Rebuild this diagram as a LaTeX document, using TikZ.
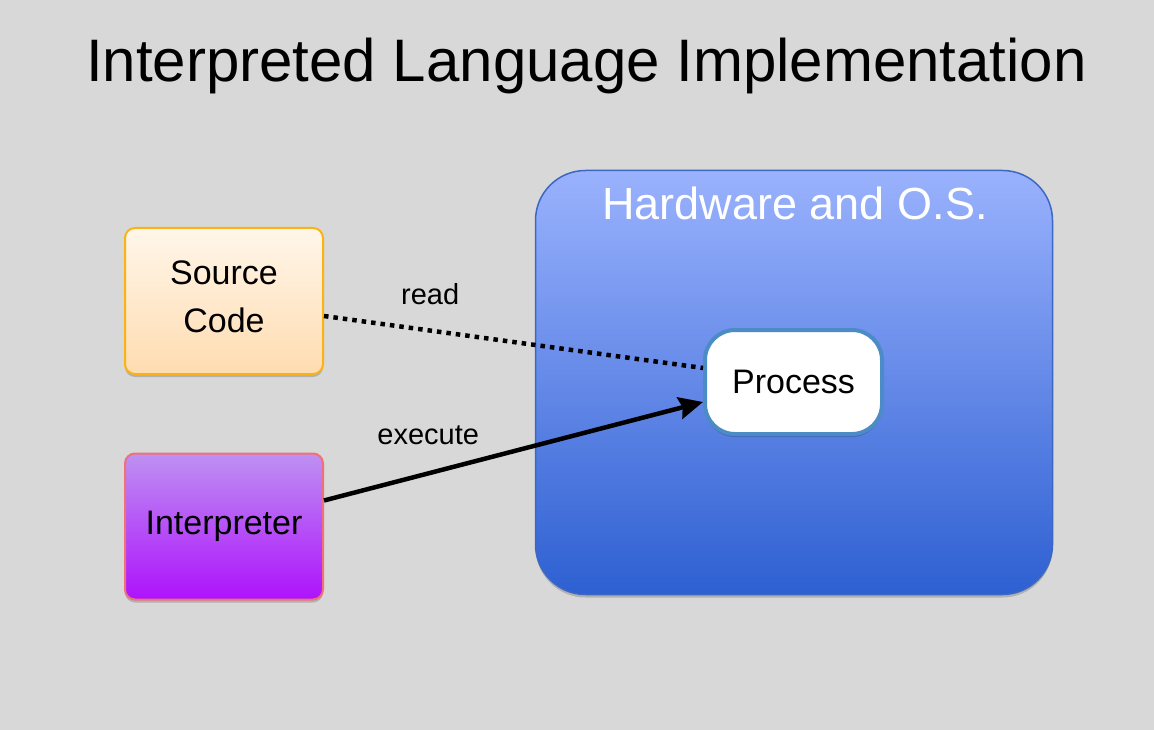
\documentclass[tikz,border=0pt]{standalone}
\usepackage{fontspec}
\setmainfont{Liberation Sans}
\usetikzlibrary{arrows.meta,shadows}

\definecolor{canvas}{RGB}{216,216,216}
\definecolor{srctop}{RGB}{255,246,234}
\definecolor{srcbot}{RGB}{255,220,176}
\definecolor{srcline}{RGB}{250,178,20}
\definecolor{inttop}{RGB}{190,145,242}
\definecolor{intbot}{RGB}{174,18,252}
\definecolor{intline}{RGB}{240,112,120}
\definecolor{hwtop}{RGB}{154,178,253}
\definecolor{hwbot}{RGB}{46,96,210}
\definecolor{hwline}{RGB}{60,104,196}
\definecolor{procline}{RGB}{75,139,198}

\tikzset{
  softshadow/.style={drop shadow={shadow xshift=0pt, shadow yshift=-3pt, opacity=0.18, fill=black}},
  sidebox/.style={rounded corners=10pt, minimum width=198pt, minimum height=146pt,
    line width=2pt, align=center, inner sep=0pt, softshadow,
    font=\fontsize{34}{48}\selectfont},
  lbl/.style={font=\fontsize{29}{34}\selectfont, inner sep=0pt},
  link/.style={line width=4.5pt},
}

\begin{document}
\begin{tikzpicture}[x=1pt,y=-1pt]
  % page and background
  \fill[canvas] (0,0) rectangle (1154,730);
  \useasboundingbox (0,0) rectangle (1154,730);

  % heading
  \node[anchor=base, inner sep=0pt, font=\fontsize{60}{72}\selectfont] (title) at (586.5,82)
    {Interpreted Language Implementation};

  % hardware / operating system container
  \node[rounded corners=50pt, minimum width=517pt, minimum height=424pt,
        top color=hwtop, bottom color=hwbot, draw=hwline, line width=1.5pt,
        softshadow, inner sep=0pt] (hw) at (794,382.5) {};
  \node[anchor=base, inner sep=0pt, text=white, font=\fontsize{45}{54}\selectfont]
    (hwtitle) at (795,220) {Hardware and O.S.};

  % running process
  \node[rounded corners=30pt, minimum width=177pt, minimum height=104pt,
        fill=white, draw=procline, line width=4pt, softshadow,
        font=\fontsize{34}{40}\selectfont, inner sep=0pt] (proc) at (793.5,382) {Process};

  % inputs
  \node[sidebox, top color=srctop, bottom color=srcbot, draw=srcline]
    (src) at (224,301) {Source\\Code\rule[-8pt]{0pt}{0pt}};
  \node[sidebox, top color=inttop, bottom color=intbot, draw=intline]
    (interp) at (224,526.5) {Interpreter};

  % connectors
  \draw[link, dash pattern=on 4.5pt off 5pt]
    ([yshift=-15pt]src.east) -- node[lbl, pos=0.28, yshift=36pt] (readlbl) {read}
    ([yshift=14pt]proc.west);
  \draw[link, -{Stealth[length=24pt, width=22pt, inset=3pt]}]
    ([yshift=26pt]interp.east) -- node[lbl, pos=0.275, yshift=38pt] (execlbl) {execute}
    ([yshift=-20pt]proc.west);
\end{tikzpicture}
\end{document}
